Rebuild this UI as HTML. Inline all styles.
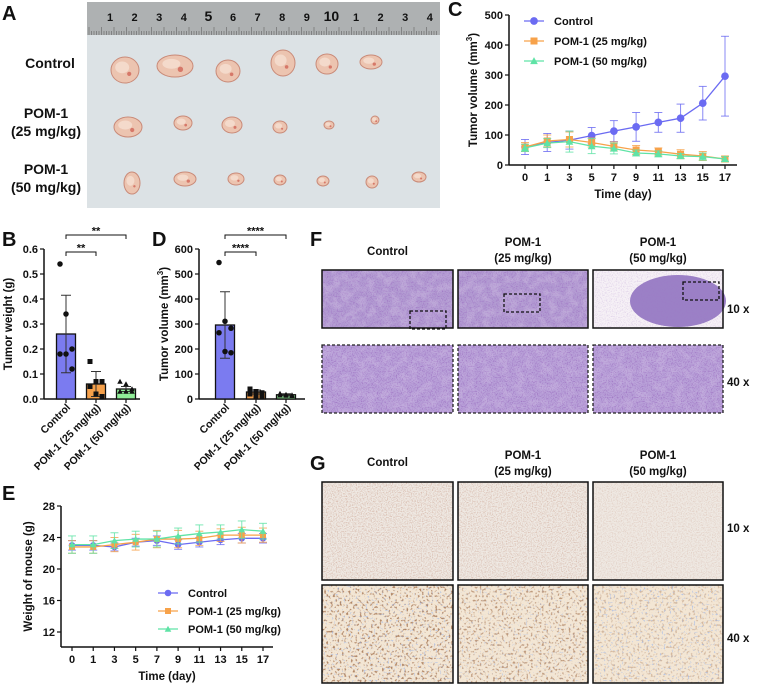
<!DOCTYPE html>
<html><head><meta charset="utf-8">
<style>
html,body{margin:0;padding:0;background:#fff;}
svg{display:block;font-family:"Liberation Sans",Arial,sans-serif;}
text{font-weight:bold;fill:#111;}
</style></head>
<body>
<svg id="fig" width="758" height="686" viewBox="0 0 758 686" xmlns="http://www.w3.org/2000/svg">
<defs>
  <filter id="noiseHE" x="0" y="0" width="100%" height="100%">
    <feTurbulence type="fractalNoise" baseFrequency="0.8" numOctaves="2" seed="3"/>
    <feColorMatrix values="0 0 0 0 0.35  0 0 0 0 0.18  0 0 0 0 0.55  0 0 0 3 -1.4"/>
  </filter>
  <filter id="noiseHEw" x="0" y="0" width="100%" height="100%">
    <feTurbulence type="fractalNoise" baseFrequency="0.12" numOctaves="2" seed="5"/>
    <feColorMatrix values="0 0 0 0 1  0 0 0 0 0.95  0 0 0 0 1  0 0 0 -4 2.3"/>
  </filter>
  <filter id="noiseIHC" x="0" y="0" width="100%" height="100%">
    <feTurbulence type="fractalNoise" baseFrequency="0.8" numOctaves="2" seed="7"/>
    <feColorMatrix values="0 0 0 0 0.55  0 0 0 0 0.3  0 0 0 0 0.22  0 0 0 2.5 -1.1"/>
  </filter>
  <filter id="noiseIHC2" x="0" y="0" width="100%" height="100%">
    <feTurbulence type="fractalNoise" baseFrequency="0.45" numOctaves="1" seed="11"/>
    <feColorMatrix values="0 0 0 0 0.42  0 0 0 0 0.22  0 0 0 0 0.12  0 0 0 6 -3.3"/>
  </filter>
  <filter id="noiseBlue" x="0" y="0" width="100%" height="100%">
    <feTurbulence type="fractalNoise" baseFrequency="0.5" numOctaves="1" seed="21"/>
    <feColorMatrix values="0 0 0 0 0.3  0 0 0 0 0.45  0 0 0 0 0.85  0 0 0 6 -3.6"/>
  </filter>
</defs>

<text x="2" y="20" font-size="20">A</text>
<text x="448" y="16" font-size="20">C</text>
<text x="2" y="246" font-size="20">B</text>
<text x="152" y="246" font-size="20">D</text>
<text x="310" y="246" font-size="20">F</text>
<text x="2" y="500" font-size="20">E</text>
<text x="310" y="470" font-size="20">G</text>

<g>
  <rect x="87" y="2" width="353" height="206" fill="#dce2e5"/>
  <rect x="87" y="2" width="353" height="33" fill="#aeb1b2"/>
  <g id="rulerText" font-size="11" font-weight="normal"></g>
</g>
<g id="tumors"></g>
<text x="50" y="68" font-size="14" text-anchor="middle">Control</text>
<text x="46" y="118" font-size="14" text-anchor="middle">POM-1</text>
<text x="46" y="136" font-size="14" text-anchor="middle">(25 mg/kg)</text>
<text x="46" y="174" font-size="14" text-anchor="middle">POM-1</text>
<text x="46" y="192" font-size="14" text-anchor="middle">(50 mg/kg)</text>

<g id="chartC"></g>
<g id="chartB"></g>
<g id="chartD"></g>
<g id="chartE"></g>
<g id="histo"></g>
</svg>
<script>
const days = ["0","1","3","5","7","9","11","13","15","17"];
const cCtrl = [60,75,83,98,113,127,142,156,206,296];
const cCtrlErr = [25,30,30,27,35,48,33,47,56,133];
const c25 = [60,80,85,75,62,50,45,36,30,20];
const c25Err = [15,20,25,15,15,15,12,15,15,10];
const c50 = [57,73,78,63,55,40,37,30,28,20];
const c50Err = [12,15,35,25,18,10,10,8,12,8];
const cTicks = [0,100,200,300,400,500];

const groups = ["Control","POM-1 (25 mg/kg)","POM-1 (50 mg/kg)"];
const bMeans = [0.26,0.06,0.04];
const bSD = [0.155,0.05,0.01];
const bPtsCtrl = [0.54,0.34,0.2,0.18,0.18,0.12];
const bPts25 = [0.15,0.07,0.07,0.05,0.02,0.01];
const bPts50 = [0.07,0.06,0.04,0.03,0.03,0.03];
const bTicks = ["0.0","0.1","0.2","0.3","0.4","0.5","0.6"];

const dMeans = [296,28,17];
const dSD = [133,8,4];
const dPtsCtrl = [546,311,283,265,190,185];
const dPts25 = [40,30,25,20,10,8];
const dPts50 = [22,18,16,15,14,13];
const dTicks = [0,100,200,300,400,500,600];

const eCtrl = [23,23,22.8,23.4,23.6,23.1,23.4,23.7,23.9,23.9];
const eCtrlErr = [0.6,0.6,0.5,0.5,0.6,0.6,0.6,0.6,0.6,0.6];
const e25 = [22.8,22.8,23.1,23.4,23.8,23.8,23.9,24.3,24.3,24.3];
const e25Err = [0.8,0.8,0.9,1,1.1,1.1,0.9,0.8,1,0.9];
const e50 = [23.1,23.1,23.6,23.8,23.8,24.2,24.5,24.7,25,24.8];
const e50Err = [1.1,1.1,1,1,1,1,1.1,0.9,1.1,1];
const eTicks = [12,16,20,24,28];

const BLUE="#6b6bf2", ORANGE="#f7a24a", GREEN="#5fe3a6";
const NS="http://www.w3.org/2000/svg";
function mk(parent,tag,attrs){const e=document.createElementNS(NS,tag);for(const k in attrs)e.setAttribute(k,attrs[k]);parent.appendChild(e);return e;}
function txt(parent,x,y,s,size,anchor,extra){const t=mk(parent,'text',Object.assign({x:x,y:y,'font-size':size,'text-anchor':anchor||'start'},extra||{}));t.textContent=s;return t;}

(function(){
  const rt=document.getElementById('rulerText');
  const nums=["1","2","3","4","5","6","7","8","9","10","1","2","3","4"];
  nums.forEach((n,i)=>{const t=txt(rt,110+i*24.6,21,n,i==4||i==9?14:11,'middle',{fill:(i==4||i==9)?'#a02020':'#444'});
    
    });
  for(let i=0;i<140;i++){mk(rt,'line',{x1:89+i*2.5,x2:89+i*2.5,y1:35,y2:i%5==0?27:31,stroke:'#555','stroke-width':0.5});}
  const tg=document.getElementById('tumors');
  const tum=[[125,70,14,13],[175,66,18,11],[228,71,12,11],[283,63,12,13],[327,64,11,10],[371,62,11,7],
             [128,127,14,10],[183,123,9,7],[232,125,10,8],[280,127,7,6],[329,125,5,4],[375,120,4,4],
             [132,183,8,11],[185,179,11,7],[236,179,8,6],[280,180,6,5],[323,181,6,5],[372,182,6,6],[419,177,7,5]];
  tum.forEach(t=>{const e=mk(tg,'ellipse',{cx:t[0],cy:t[1],rx:t[2],ry:t[3],fill:'#ecc4b0',stroke:'#c98a78','stroke-width':1});
    
    
    mk(tg,'ellipse',{cx:t[0]-t[2]*0.2,cy:t[1]-t[3]*0.2,rx:t[2]*0.5,ry:t[3]*0.45,fill:'#f6e0d2',opacity:0.8});
    mk(tg,'circle',{cx:t[0]+t[2]*0.3,cy:t[1]+t[3]*0.3,r:Math.max(1,t[2]*0.15),fill:'#c8463a',opacity:0.6});});
})();

function lineChart(g,o){
  const n=o.cats.length;
  const X=i=>o.x0+i*(o.x1-o.x0)/(n-1);
  const Y=v=>o.yb-(v-o.ymin)*(o.yb-o.yt)/(o.ymax-o.ymin);
  mk(g,'line',{x1:o.ax,x2:o.ax,y1:Y(o.ymax),y2:o.axb,stroke:'#111','stroke-width':1.5});
  mk(g,'line',{x1:o.ax,x2:o.axEnd,y1:o.axb,y2:o.axb,stroke:'#111','stroke-width':1.5});
  o.ticks.forEach(v=>{mk(g,'line',{x1:o.ax-4,x2:o.ax,y1:Y(v),y2:Y(v),stroke:'#111','stroke-width':1.2});
    const t=txt(g,o.ax-6,Y(v)+4,String(v),11,'end');
    
    });
  o.cats.forEach((c,i)=>{mk(g,'line',{x1:X(i),x2:X(i),y1:o.axb,y2:o.axb+4,stroke:'#111','stroke-width':1.2});
    const t=txt(g,X(i),o.axb+16,c,11,'middle');
    
    });
  const xt=txt(g,(o.ax+o.axEnd)/2,o.axb+33,'Time (day)',11.5,'middle');
  
  
  const yt=txt(g,0,0,'',11.5,'middle',{transform:`translate(${o.ylx},${(Y(o.ymax)+o.axb)/2}) rotate(-90)`});
  yt.innerHTML=o.ylabel;
  
  
  o.series.forEach(s=>{
    const sg=mk(g,'g',{});
    
    
    s.vals.forEach((v,i)=>{const e=s.err[i];
      mk(sg,'line',{x1:X(i),x2:X(i),y1:Y(v-e),y2:Y(v+e),stroke:s.color,'stroke-width':1,opacity:0.8});
      mk(sg,'line',{x1:X(i)-4,x2:X(i)+4,y1:Y(v+e),y2:Y(v+e),stroke:s.color,'stroke-width':1,opacity:0.8});
      mk(sg,'line',{x1:X(i)-4,x2:X(i)+4,y1:Y(v-e),y2:Y(v-e),stroke:s.color,'stroke-width':1,opacity:0.8});});
    mk(sg,'polyline',{points:s.vals.map((v,i)=>X(i)+','+Y(v)).join(' '),fill:'none',stroke:s.color,'stroke-width':1.3});
    s.vals.forEach((v,i)=>marker(sg,s.shape,X(i),Y(v),s.color,o.ms));
  });
  o.legend.forEach((l,i)=>{const y=o.ly+i*o.lstep;
    mk(g,'line',{x1:o.lx-10,x2:o.lx+10,y1:y,y2:y,stroke:o.series[i].color,'stroke-width':1.3});
    marker(g,o.series[i].shape,o.lx,y,o.series[i].color,o.ms);
    const t=txt(g,o.lx+20,y+4,l,11,'start');
    
    });
}
function marker(g,shape,x,y,c,s){
  if(shape=='c')mk(g,'circle',{cx:x,cy:y,r:s*0.55,fill:c});
  else if(shape=='s')mk(g,'rect',{x:x-s/2,y:y-s/2,width:s,height:s,fill:c});
  else mk(g,'polygon',{points:`${x},${y-s*0.55} ${x-s*0.55},${y+s*0.45} ${x+s*0.55},${y+s*0.45}`,fill:c});
}

lineChart(document.getElementById('chartC'),{cats:days,x0:525,x1:725,ax:509,axEnd:737,ymin:0,ymax:500,yb:165,yt:15,axb:165,
  ticks:cTicks,ylx:477,ylabel:'Tumor volume (mm<tspan dy="-5" font-size="8">3</tspan><tspan dy="5">)</tspan>',ms:7,
  series:[{name:'control',vals:cCtrl,err:cCtrlErr,color:BLUE,shape:'c'},{name:'pom25',vals:c25,err:c25Err,color:ORANGE,shape:'s'},{name:'pom50',vals:c50,err:c50Err,color:GREEN,shape:'t'}],
  legend:groups,lx:534,ly:21,lstep:20});

lineChart(document.getElementById('chartE'),{cats:days,x0:72,x1:263,ax:61,axEnd:273,ymin:12,ymax:28,yb:632,yt:506,axb:647,
  ticks:eTicks,ylx:32,ylabel:'Weight of mouse (g)',ms:6,
  series:[{name:'control',vals:eCtrl,err:eCtrlErr,color:BLUE,shape:'c'},{name:'pom25',vals:e25,err:e25Err,color:ORANGE,shape:'s'},{name:'pom50',vals:e50,err:e50Err,color:GREEN,shape:'t'}],
  legend:groups,lx:168,ly:593,lstep:18});

function barChart(g,o){
  const Y=v=>o.yb-v*(o.yb-o.yt)/o.ymax;
  mk(g,'line',{x1:o.ax,x2:o.ax,y1:o.yt,y2:o.yb,stroke:'#111','stroke-width':1.5});
  mk(g,'line',{x1:o.ax,x2:o.axEnd,y1:o.yb,y2:o.yb,stroke:'#111','stroke-width':1.5});
  o.ticks.forEach(s=>{const v=parseFloat(s);mk(g,'line',{x1:o.ax-4,x2:o.ax,y1:Y(v),y2:Y(v),stroke:'#111','stroke-width':1.2});
    const t=txt(g,o.ax-6,Y(v)+4,s,11,'end');
    
    });
  const yt=txt(g,0,0,'',11.5,'middle',{transform:`translate(${o.ylx},${(o.yt+o.yb)/2}) rotate(-90)`});
  yt.innerHTML=o.ylabel;
  
  
  const fills=['#7b7bf0','#f5a04a','#90ee98'];
  o.means.forEach((m,i)=>{const x=o.xs[i];
    const b=mk(g,'rect',{x:x-9.5,y:Y(m),width:19,height:o.yb-Y(m),fill:fills[i],stroke:'#111','stroke-width':1.3});
    
    
    const sd=o.sd[i];
    mk(g,'line',{x1:x,x2:x,y1:Y(m+sd),y2:Y(Math.max(0,m-sd)),stroke:'#333','stroke-width':1});
    mk(g,'line',{x1:x-5,x2:x+5,y1:Y(m+sd),y2:Y(m+sd),stroke:'#333','stroke-width':1});
    mk(g,'line',{x1:x-5,x2:x+5,y1:Y(Math.max(0,m-sd)),y2:Y(Math.max(0,m-sd)),stroke:'#333','stroke-width':1});
    o.pts[i].forEach((p,j)=>{const px=x+((j%3)-1)*6;
      marker(g,['c','s','t'][i],px,Y(p),'#111',5);});
    mk(g,'line',{x1:x,x2:x,y1:o.yb,y2:o.yb+4,stroke:'#111','stroke-width':1.2});
    const t=txt(g,0,0,groups[i],10.5,'end',{transform:`translate(${x+5},${o.yb+9}) rotate(-45)`});
    
    
  });
  [[0,1,o.br1],[0,2,o.br2]].forEach(b=>{const x1=o.xs[b[0]],x2=o.xs[b[1]];
    const br=mk(g,'polyline',{points:`${x1},${b[2]+4} ${x1},${b[2]} ${x2},${b[2]} ${x2},${b[2]+4}`,fill:'none',stroke:'#111','stroke-width':1});
    
    
    txt(g,(x1+x2)/2,b[2]-0.5,o.star,11,'middle');});
}
barChart(document.getElementById('chartB'),{ax:44,axEnd:140,yt:249,yb:399,ymax:0.6,xs:[66,96,126],means:bMeans,sd:bSD,
  pts:[bPtsCtrl,bPts25,bPts50],ticks:bTicks,ylx:12,ylabel:'Tumor weight (g)',br1:252,br2:235,star:'**'});
barChart(document.getElementById('chartD'),{ax:199,axEnd:305,yt:249,yb:399,ymax:600,xs:[225,256,286],means:dMeans,sd:dSD,
  pts:[dPtsCtrl,dPts25,dPts50],ticks:dTicks.map(String),ylx:168,ylabel:'Tumor volume (mm<tspan dy="-5" font-size="8">3</tspan><tspan dy="5">)</tspan>',br1:252,br2:235,star:'****'});

(function(){
  const h=document.getElementById('histo');
  const cols=[[322,453],[458,588],[593,723]];
  const sub=['','(25 mg/kg)','(50 mg/kg)'];
  cols.forEach((c,i)=>{const cx=(c[0]+c[1])/2, w=c[1]-c[0];
    if(i==0)txt(h,cx,255,'Control',11.5,'middle');else{txt(h,cx,246,'POM-1',11.5,'middle');txt(h,cx,262,sub[i],11.5,'middle');}
    const top=mk(h,'g',{});
    
    
    mk(top,'rect',{x:c[0],y:270,width:w,height:58,fill:i==2?'#f6f1f6':'#b29bd2'});
    if(i==2)mk(top,'ellipse',{cx:c[0]+85,cy:301,rx:48,ry:26,fill:'#9b80c6'});
    mk(top,'rect',{x:c[0],y:270,width:w,height:58,filter:'url(#noiseHE)',opacity:i==2?0.25:0.9});
    if(i<2)mk(top,'rect',{x:c[0],y:270,width:w,height:58,filter:'url(#noiseHEw)',opacity:0.15});
    mk(top,'rect',{x:c[0],y:270,width:w,height:58,fill:'none',stroke:'#111','stroke-width':1.5});
    const boxes=[[c[0]+88,315],[c[0]+46,298],[c[0]+90,286]];
    mk(top,'rect',{x:boxes[i][0],y:boxes[i][1]-4,width:36,height:18,fill:'none',stroke:'#111','stroke-width':1.3,'stroke-dasharray':'3,2'});
    const bot=mk(h,'g',{});
    
    
    mk(bot,'rect',{x:c[0],y:345,width:w,height:68,fill:'#b8a0d8'});
    mk(bot,'rect',{x:c[0],y:345,width:w,height:68,filter:'url(#noiseHE)'});
    mk(bot,'rect',{x:c[0],y:345,width:w,height:68,filter:'url(#noiseHEw)',opacity:0.12});
    mk(bot,'rect',{x:c[0],y:345,width:w,height:68,fill:'none',stroke:'#222','stroke-width':1.3,'stroke-dasharray':'3,2'});
  });
  txt(h,727,313,'10',11.5,'start');txt(h,743,313,'x',11.5,'start',{'font-weight':'normal'});
  txt(h,727,386,'40',11.5,'start');txt(h,743,386,'x',11.5,'start',{'font-weight':'normal'});
  cols.forEach((c,i)=>{const cx=(c[0]+c[1])/2, w=c[1]-c[0];
    if(i==0)txt(h,cx,466,'Control',11.5,'middle');else{txt(h,cx,459,'POM-1',11.5,'middle');txt(h,cx,475,sub[i],11.5,'middle');}
    const top=mk(h,'g',{});
    
    
    mk(top,'rect',{x:c[0],y:482,width:w,height:98,fill:'#efe9e3'});
    mk(top,'rect',{x:c[0],y:482,width:w,height:98,filter:'url(#noiseIHC)',opacity:[0.6,0.55,0.35][i]});
    mk(top,'rect',{x:c[0],y:482,width:w,height:98,fill:'none',stroke:'#111','stroke-width':1.5});
    const bot=mk(h,'g',{});
    
    
    mk(bot,'rect',{x:c[0],y:585,width:w,height:98,fill:'#f3e6d4'});
    mk(bot,'rect',{x:c[0],y:585,width:w,height:98,filter:'url(#noiseIHC2)',opacity:[0.95,0.75,0.45][i]});
    mk(bot,'rect',{x:c[0],y:585,width:w,height:98,filter:'url(#noiseBlue)',opacity:[0.6,0.4,0.6][i]});
    mk(bot,'rect',{x:c[0],y:585,width:w,height:98,fill:'none',stroke:'#111','stroke-width':1.5});
  });
  txt(h,727,532,'10',11.5,'start');txt(h,743,532,'x',11.5,'start',{'font-weight':'normal'});
  txt(h,727,642,'40',11.5,'start');txt(h,743,642,'x',11.5,'start',{'font-weight':'normal'});
})();
</script>
</body></html>
